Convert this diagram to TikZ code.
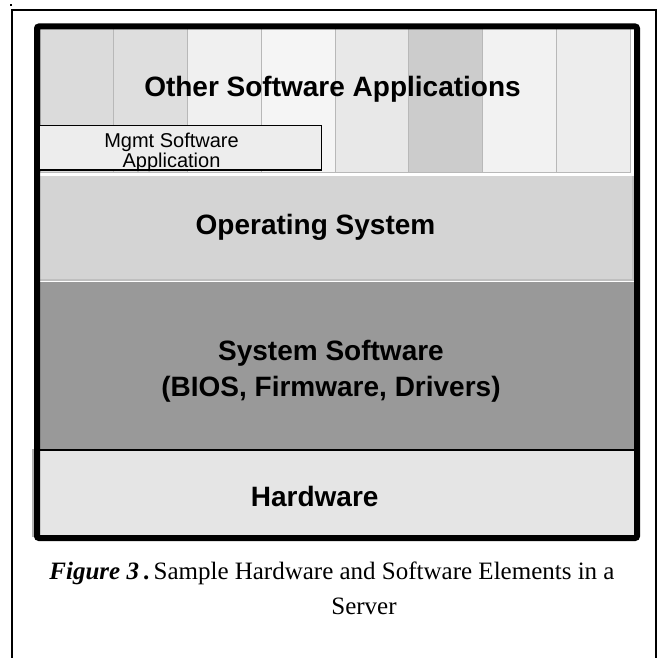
\documentclass[tikz,border=0pt]{standalone}
\usepackage{fontspec}
\setmainfont{Liberation Serif}
\setsansfont{Liberation Sans}
\begin{document}
\begin{tikzpicture}[x=1pt,y=-1pt,inner sep=0pt,outer sep=0pt,
heading/.style={font=\sffamily\bfseries\fontsize{28}{36}\selectfont,align=center,anchor=base},
mgmttext/.style={font=\sffamily\fontsize{20}{18}\selectfont,align=center,anchor=base},
captext/.style={font=\rmfamily\fontsize{25}{35}\selectfont,anchor=base},
column/.style={draw=black!28,line width=1pt}]
\useasboundingbox (0,0) rectangle (657,658);
% outer frame, open at the bottom
\draw[line width=1.7pt] (12,658) -- (12,9.8) -- (656,9.8) -- (656,658);
\fill (10,4) rectangle (12,6);
% application columns
\foreach \i/\g in {0/14,1/13,2/6,3/4,4/9,5/20,6/5,7/7}
  \draw[column,fill=black!\g] ({40+73.75*\i},29) rectangle ++(73.75,143);
% layers
\fill[black!17] (40,175.5) rectangle (632,280);
\draw[black!25,line width=2pt] (40,280) -- (633,280) -- (633,175.5);
\fill[black!40] (40,282) rectangle (634,449);
\fill[black!10] (40,451) rectangle (634,535);
\draw[line width=2pt] (40,450) -- (634,450);
\draw[black!30,line width=2pt] (33,449) -- (33,537);
\draw[line width=6pt,rounded corners=2pt] (37,26.5) rectangle (637,538);
\draw[line width=1.3pt,fill=black!7] (39.5,125.5) rectangle (321.5,170);
% texts
\draw (332.5,97) node[heading] (apps) {Other Software Applications};
\draw (171.5,167) node[mgmttext] (mgmt) {Mgmt Software\\Application};
\draw (315.5,234) node[heading] (os) {Operating System};
\draw (331,396) node[heading] (syssw) {System Software\\(BIOS, Firmware, Drivers)};
\draw (314.7,506) node[heading] (hw) {Hardware};
\draw (332,579) node[captext] (cap1) {\textbf{\textit{Figure 3}}\,\textbf{.}\,Sample Hardware and Software Elements in a};
\draw (364,614) node[captext] (cap2) {Server};
\end{tikzpicture}
\end{document}
